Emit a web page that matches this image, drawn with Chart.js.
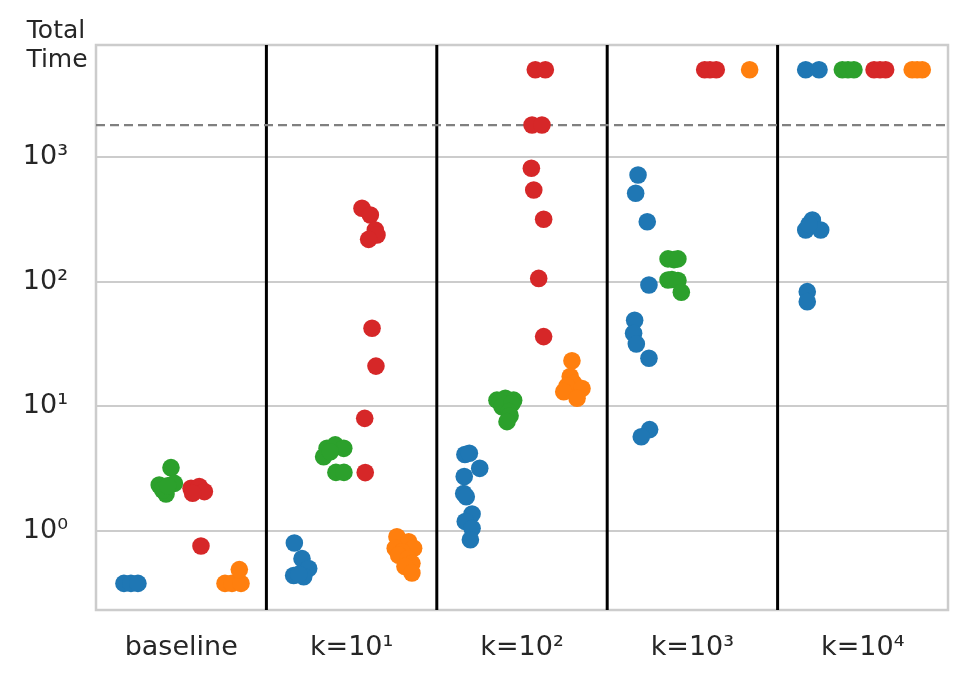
<!DOCTYPE html>
<html>
<head>
<meta charset="utf-8">
<script src="https://cdn.jsdelivr.net/npm/chart.js@4"></script>
<style>
  html, body { margin: 0; padding: 0; background: #ffffff; }
  #wrap { width: 968px; height: 681px; }
</style>
</head>
<body>
<div id="wrap"><canvas id="myChart"></canvas></div>
<script>
// categorias e ticks
const categories = ['baseline', 'k=10¹', 'k=10²', 'k=10³', 'k=10⁴'];
const yTicks = [1, 10, 100, 1000];
const yTickLabels = ['10⁰', '10¹', '10²', '10³'];
const timeoutLine = 1800;
const separators = [0.5, 1.5, 2.5, 3.5];

// pontos [posição x na categoria, tempo]
const bluePoints = [
    [-0.336, 0.38], [-0.295, 0.38], [-0.254, 0.38],
    [0.664, 0.80], [0.709, 0.60], [0.748, 0.50], [0.660, 0.44], [0.719, 0.43], [0.690, 0.45],
    [1.665, 4.1], [1.691, 4.2], [1.752, 3.18], [1.661, 2.73], [1.658, 2.0], [1.673, 1.88],
    [1.707, 1.37], [1.667, 1.19], [1.707, 1.05], [1.697, 0.85],
    [2.681, 716], [2.667, 511], [2.735, 302], [2.745, 94], [2.661, 49], [2.655, 38.5],
    [2.671, 31.6], [2.745, 24.3], [2.749, 6.5], [2.700, 5.7],
    [3.665, 5000], [3.743, 5000], [3.704, 312], [3.665, 259], [3.753, 259], [3.684, 287],
    [3.674, 83], [3.674, 69]
];
const greenPoints = [
    [-0.060, 3.22], [-0.129, 2.34], [-0.040, 2.41], [-0.089, 1.98], [-0.109, 2.13], [-0.079, 2.30],
    [0.856, 4.6], [0.904, 4.9], [0.954, 4.6], [0.836, 3.94], [0.875, 4.32], [0.908, 2.95], [0.955, 2.95],
    [1.853, 11.2], [1.902, 11.6], [1.951, 11.2], [1.871, 10.8], [1.883, 9.93], [1.941, 10.5],
    [1.922, 9.06], [1.930, 8.4], [1.912, 7.53],
    [2.857, 152], [2.892, 150], [2.915, 152], [2.857, 103], [2.880, 104], [2.915, 102], [2.935, 82],
    [3.880, 5000], [3.913, 5000], [3.948, 5000]
];
const redPoints = [
    [0.058, 2.20], [0.106, 2.27], [0.136, 2.07], [0.067, 2.01], [0.116, 0.758],
    [1.061, 387], [1.110, 342], [1.139, 259], [1.149, 236], [1.100, 218], [1.120, 42.2],
    [1.143, 21.0], [1.077, 8.0], [1.080, 2.94],
    [2.078, 5000], [2.137, 5000], [2.059, 1800], [2.117, 1800], [2.055, 811], [2.069, 543],
    [2.127, 316], [2.098, 106], [2.127, 36.2],
    [3.072, 5000], [3.103, 5000], [3.140, 5000],
    [4.066, 5000], [4.101, 5000], [4.134, 5000]
];
const orangePoints = [
    [0.257, 0.38], [0.298, 0.38], [0.351, 0.38], [0.341, 0.49],
    [1.266, 0.90], [1.335, 0.82], [1.364, 0.726], [1.256, 0.726], [1.296, 0.68], [1.276, 0.64],
    [1.331, 0.60], [1.354, 0.55], [1.313, 0.52], [1.354, 0.46],
    [2.293, 23.2], [2.283, 17.3], [2.303, 15.3], [2.264, 14.5], [2.352, 13.9], [2.245, 13.1], [2.323, 11.6],
    [3.336, 5000],
    [4.290, 5000], [4.319, 5000], [4.349, 5000]
];

const toXY = pts => pts.map(p => ({ x: p[0], y: p[1] }));

// linhas separadoras, linha tracejada e moldura
const decor = {
    id: 'decor',
    beforeDatasetsDraw(chart) {
        const { ctx, chartArea: a, scales } = chart;
        ctx.save();
        ctx.strokeStyle = '#cccccc';
        ctx.lineWidth = 2.5;
        ctx.strokeRect(a.left, a.top, a.right - a.left, a.bottom - a.top);

        ctx.strokeStyle = '#000000';
        ctx.lineWidth = 3;
        separators.forEach(s => {
            const px = scales.x.getPixelForValue(s);
            ctx.beginPath();
            ctx.moveTo(px, a.top);
            ctx.lineTo(px, a.bottom);
            ctx.stroke();
        });

        const py = scales.y.getPixelForValue(timeoutLine);
        ctx.strokeStyle = '#808080';
        ctx.lineWidth = 2.2;
        ctx.setLineDash([9, 5]);
        ctx.beginPath();
        ctx.moveTo(a.left, py);
        ctx.lineTo(a.right, py);
        ctx.stroke();
        ctx.restore();
    },
    afterDraw(chart) {
        const { ctx, chartArea: a } = chart;
        ctx.save();
        ctx.fillStyle = '#262626';
        ctx.font = '25px "DejaVu Sans"';
        ctx.textAlign = 'center';
        ctx.textBaseline = 'alphabetic';
        ctx.fillText('Total', a.left - 40, 38);
        ctx.fillText('Time', a.left - 39, 67);
        ctx.restore();
    }
};

const ctx = document.getElementById('myChart').getContext('2d');
const myChart = new Chart(ctx, {
    type: 'scatter',
    data: {
        datasets: [
            { data: toXY(bluePoints), backgroundColor: '#1f77b4' },
            { data: toXY(greenPoints), backgroundColor: '#2ca02c' },
            { data: toXY(redPoints), backgroundColor: '#d62728' },
            { data: toXY(orangePoints), backgroundColor: '#ff7f0e' }
        ]
    },
    options: {
        responsive: true,
        maintainAspectRatio: false,
        animation: false,
        events: [],
        elements: {
            point: { radius: 8.8, borderWidth: 0, hoverRadius: 8.8 }
        },
        layout: {
            padding: { top: 45, right: 20, bottom: 0, left: 0 }
        },
        plugins: {
            legend: { display: false },
            tooltip: { enabled: false }
        },
        scales: {
            x: {
                type: 'linear',
                min: -0.5,
                max: 4.5,
                afterBuildTicks: scale => {
                    scale.ticks = categories.map((c, i) => ({ value: i }));
                },
                afterFit: scale => { scale.height = 71; },
                grid: { display: false, drawTicks: false },
                border: { display: false },
                ticks: {
                    color: '#262626',
                    padding: 22,
                    maxRotation: 0,
                    font: { family: 'DejaVu Sans', size: 27 },
                    callback: value => categories[value]
                }
            },
            y: {
                type: 'logarithmic',
                min: 0.2325,
                max: 7890,
                afterBuildTicks: scale => {
                    scale.ticks = yTicks.map(v => ({ value: v }));
                },
                afterFit: scale => { scale.width = 96; },
                grid: { color: '#cccccc', lineWidth: 2, drawTicks: false },
                border: { display: false },
                ticks: {
                    color: '#262626',
                    padding: 28,
                    font: { family: 'DejaVu Sans', size: 27 },
                    callback: value => {
                        const i = yTicks.indexOf(value);
                        return i >= 0 ? yTickLabels[i] : '';
                    }
                }
            }
        }
    },
    plugins: [decor]
});
</script>
</body>
</html>
